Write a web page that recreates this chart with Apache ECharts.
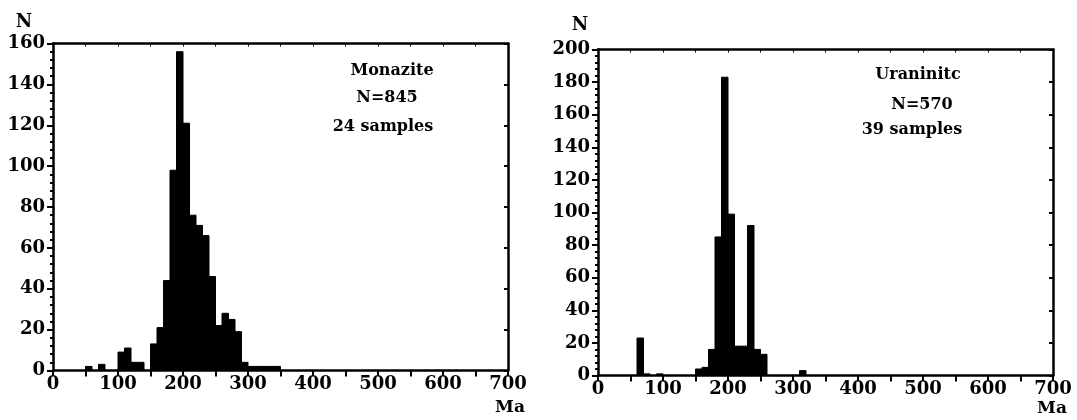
<!DOCTYPE html>
<html>
<head>
<meta charset="utf-8">
<script src="https://cdn.jsdelivr.net/npm/echarts@6/dist/echarts.min.js"></script>
<style>
  html, body { margin: 0; padding: 0; background: #fff; }
  #chart { width: 1077px; height: 420px; }
</style>
</head>
<body>
<div id="chart"></div>
<script>
// ---- Data (ages in Ma, 10 Ma bins: bin start -> count) ----
const BIN_WIDTH = 10;
const monaziteBinStart = [50, 60, 70, 80, 90, 100, 110, 120, 130, 140, 150, 160, 170, 180, 190, 200, 210, 220, 230, 240, 250, 260, 270, 280, 290, 300, 310, 320, 330, 340];
const monaziteCounts   = [ 2,  0,  3,  0,  0,   9,  11,   4,   4,   0,  13,  21,  44,  98, 156, 121,  76,  71,  66,  46,  22,  28,  25,  19,   4,   2,   2,   2,   2,   2];

const uraniniteBinStart = [60, 70, 80, 90, 100, 110, 120, 130, 140, 150, 160, 170, 180, 190, 200, 210, 220, 230, 240, 250, 260, 270, 280, 290, 300, 310];
const uraniniteCounts   = [23,  1,  0,  1,   0,   0,   0,   0,   0,   4,   5,  16,  85, 183,  99,  18,  18,  92,  16,  13,   0,   0,   0,   0,   0,   3];

const xTicks = [0, 100, 200, 300, 400, 500, 600, 700];
const leftYTicks = [0, 20, 40, 60, 80, 100, 120, 140, 160];
const rightYTicks = [0, 20, 40, 60, 80, 100, 120, 140, 160, 180, 200];

const monaziteNotes = ['Monazite', 'N=845', '24 samples'];
const uraniniteNotes = ['Uraninitc', 'N=570', '39 samples'];

function toBins(starts, counts) {
  return starts.map((s, i) => [s, s + BIN_WIDTH, counts[i]]);
}

const FONT = 'DejaVu Serif';
const labelStyle = { fontFamily: FONT, fontWeight: 'bold', fontSize: 18, color: '#000' };

function renderBar(params, api) {
  const p0 = api.coord([api.value(0), api.value(2)]);
  const p1 = api.coord([api.value(1), 0]);
  return {
    type: 'rect',
    shape: { x: p0[0], y: p0[1], width: p1[0] - p0[0], height: p1[1] - p0[1] },
    style: { fill: '#000', stroke: '#000', lineWidth: 1 }
  };
}

function xAxisMain(gridIndex) {
  return {
    type: 'value', gridIndex, min: xTicks[0], max: xTicks[xTicks.length - 1], interval: 100,
    splitLine: { show: false },
    axisLine: { show: true, onZero: false, lineStyle: { color: '#000', width: 2.5 } },
    axisTick: { show: true, length: 6, lineStyle: { color: '#000', width: 2 } },
    minorTick: { show: true, splitNumber: 2, length: 6, lineStyle: { color: '#000', width: 2 } },
    axisLabel: Object.assign({ margin: 5 }, labelStyle)
  };
}
function xAxisTop(gridIndex) {
  return {
    type: 'value', gridIndex, position: 'top', min: xTicks[0], max: xTicks[xTicks.length - 1], interval: 50,
    splitLine: { show: false },
    axisLine: { show: true, onZero: false, lineStyle: { color: '#000', width: 2.5 } },
    axisTick: { show: true, inside: true, length: 3, lineStyle: { color: '#000', width: 1 } },
    axisLabel: { show: false }
  };
}
function yAxisMain(gridIndex, ticks) {
  return {
    type: 'value', gridIndex, min: ticks[0], max: ticks[ticks.length - 1], interval: ticks[1] - ticks[0],
    splitLine: { show: false },
    axisLine: { show: true, onZero: false, lineStyle: { color: '#000', width: 2.5 } },
    axisTick: { show: true, length: 6, lineStyle: { color: '#000', width: 2 } },
    minorTick: { show: true, splitNumber: 5, length: 3, lineStyle: { color: '#000', width: 2 } },
    axisLabel: Object.assign({ margin: 8 }, labelStyle)
  };
}
function yAxisRight(gridIndex, ticks) {
  return {
    type: 'value', gridIndex, position: 'right', min: ticks[0], max: ticks[ticks.length - 1], interval: ticks[1] - ticks[0],
    splitLine: { show: false },
    axisLine: { show: true, onZero: false, lineStyle: { color: '#000', width: 2.5 } },
    axisTick: { show: true, inside: true, length: 4, lineStyle: { color: '#000', width: 2 } },
    axisLabel: { show: false }
  };
}

function textEl(txt, x, y, size, weight) {
  return {
    type: 'text', x, y,
    style: { text: txt, fill: '#000', font: (weight || 'bold') + ' ' + size + 'px "' + FONT + '"', textAlign: 'center', textVerticalAlign: 'middle' }
  };
}

const chart = echarts.init(document.getElementById('chart'), null, { renderer: 'canvas' });
chart.setOption({
  backgroundColor: '#fff',
  animation: false,
  grid: [
    { left: 53, top: 43.5, width: 455, height: 327 },
    { left: 598, top: 49.5, width: 455, height: 326 }
  ],
  xAxis: [xAxisMain(0), xAxisTop(0), xAxisMain(1), xAxisTop(1)],
  yAxis: [yAxisMain(0, leftYTicks), yAxisRight(0, leftYTicks), yAxisMain(1, rightYTicks), yAxisRight(1, rightYTicks)],
  series: [
    { type: 'custom', xAxisIndex: 0, yAxisIndex: 0, renderItem: renderBar, data: toBins(monaziteBinStart, monaziteCounts), encode: { x: [0, 1], y: 2 } },
    { type: 'custom', xAxisIndex: 2, yAxisIndex: 2, renderItem: renderBar, data: toBins(uraniniteBinStart, uraniniteCounts), encode: { x: [0, 1], y: 2 } }
  ],
  graphic: [
    textEl('N', 24, 22, 18),
    textEl('N', 580, 25, 18),
    textEl('Ma', 510, 408, 17),
    textEl('Ma', 1052, 409, 17),
    textEl(monaziteNotes[0], 392, 71, 16),
    textEl(monaziteNotes[1], 387, 98, 16),
    textEl(monaziteNotes[2], 383, 127, 16),
    textEl(uraniniteNotes[0], 918, 75, 16),
    textEl(uraniniteNotes[1], 922, 105, 16),
    textEl(uraniniteNotes[2], 912, 130, 16)
  ]
});
</script>
</body>
</html>
